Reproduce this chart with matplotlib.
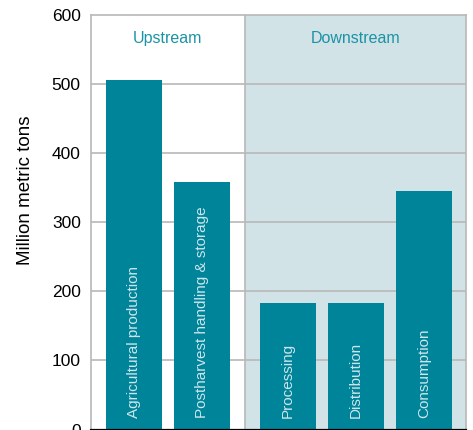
import matplotlib
matplotlib.use("Agg")
import matplotlib.pyplot as plt

categories = ["Agricultural production", "Postharvest handling & storage",
              "Processing", "Distribution", "Consumption"]
values = [506, 358, 183, 183, 345]
groups = ["Upstream", "Upstream", "Downstream", "Downstream", "Downstream"]
group_names = ["Upstream", "Downstream"]
yticks = [0, 100, 200, 300, 400, 500, 600]
ylabel = "Million metric tons"

plt.rcParams['font.family'] = ['Liberation Sans', 'DejaVu Sans']

BAR = "#00849A"
PANEL = "#D2E3E8"
TEAL = "#1B93A5"
GRID = "#B8B8B8"

fig = plt.figure(figsize=(4.73, 4.30), dpi=100)
ax = fig.add_axes([90.5 / 473, 0.5 / 430, (466 - 90.5) / 473, (429.5 - 15) / 430])

gap = 0.26
pos = []
for i, g in enumerate(groups):
    pos.append(i + (gap if g == "Downstream" else 0))
xmin, xmax = -0.63, 4 + gap + 0.61
divider = 1.635

ax.set_xlim(xmin, xmax)
ax.set_ylim(0, 600)
ax.axvspan(divider, xmax, color=PANEL, zorder=0, lw=0)
ax.axvline(divider, color=GRID, lw=1.2, zorder=1)
for t in yticks[1:-1]:
    ax.axhline(t, color=GRID, lw=1.2, zorder=1)

ax.bar(pos, values, width=0.82, color=BAR, zorder=2)
for p, c in zip(pos, categories):
    ax.text(p, 17, c, rotation=90, ha="center", va="bottom", color="#CDE6EB",
            fontsize=11, zorder=3)

ax.text((xmin + divider) / 2, 566, group_names[0], ha="center", va="center",
        color=TEAL, fontsize=11.5)
ax.text((divider + xmax) / 2, 566, group_names[1], ha="center", va="center",
        color=TEAL, fontsize=11.5)

ax.set_yticks(yticks)
ax.set_yticklabels([str(t) for t in yticks], fontsize=12.5)
ax.tick_params(axis="y", length=0, pad=7)
ax.set_xticks([])
for s in ["left", "top", "right"]:
    ax.spines[s].set_color(GRID)
    ax.spines[s].set_linewidth(1.2)
ax.spines["bottom"].set_color("black")
ax.spines["bottom"].set_linewidth(1.6)

fig.text(26 / 473, 1 - 190 / 430, ylabel, rotation=90, ha="center", va="center",
         fontsize=13.5)

fig.savefig("out.png", dpi=100)
